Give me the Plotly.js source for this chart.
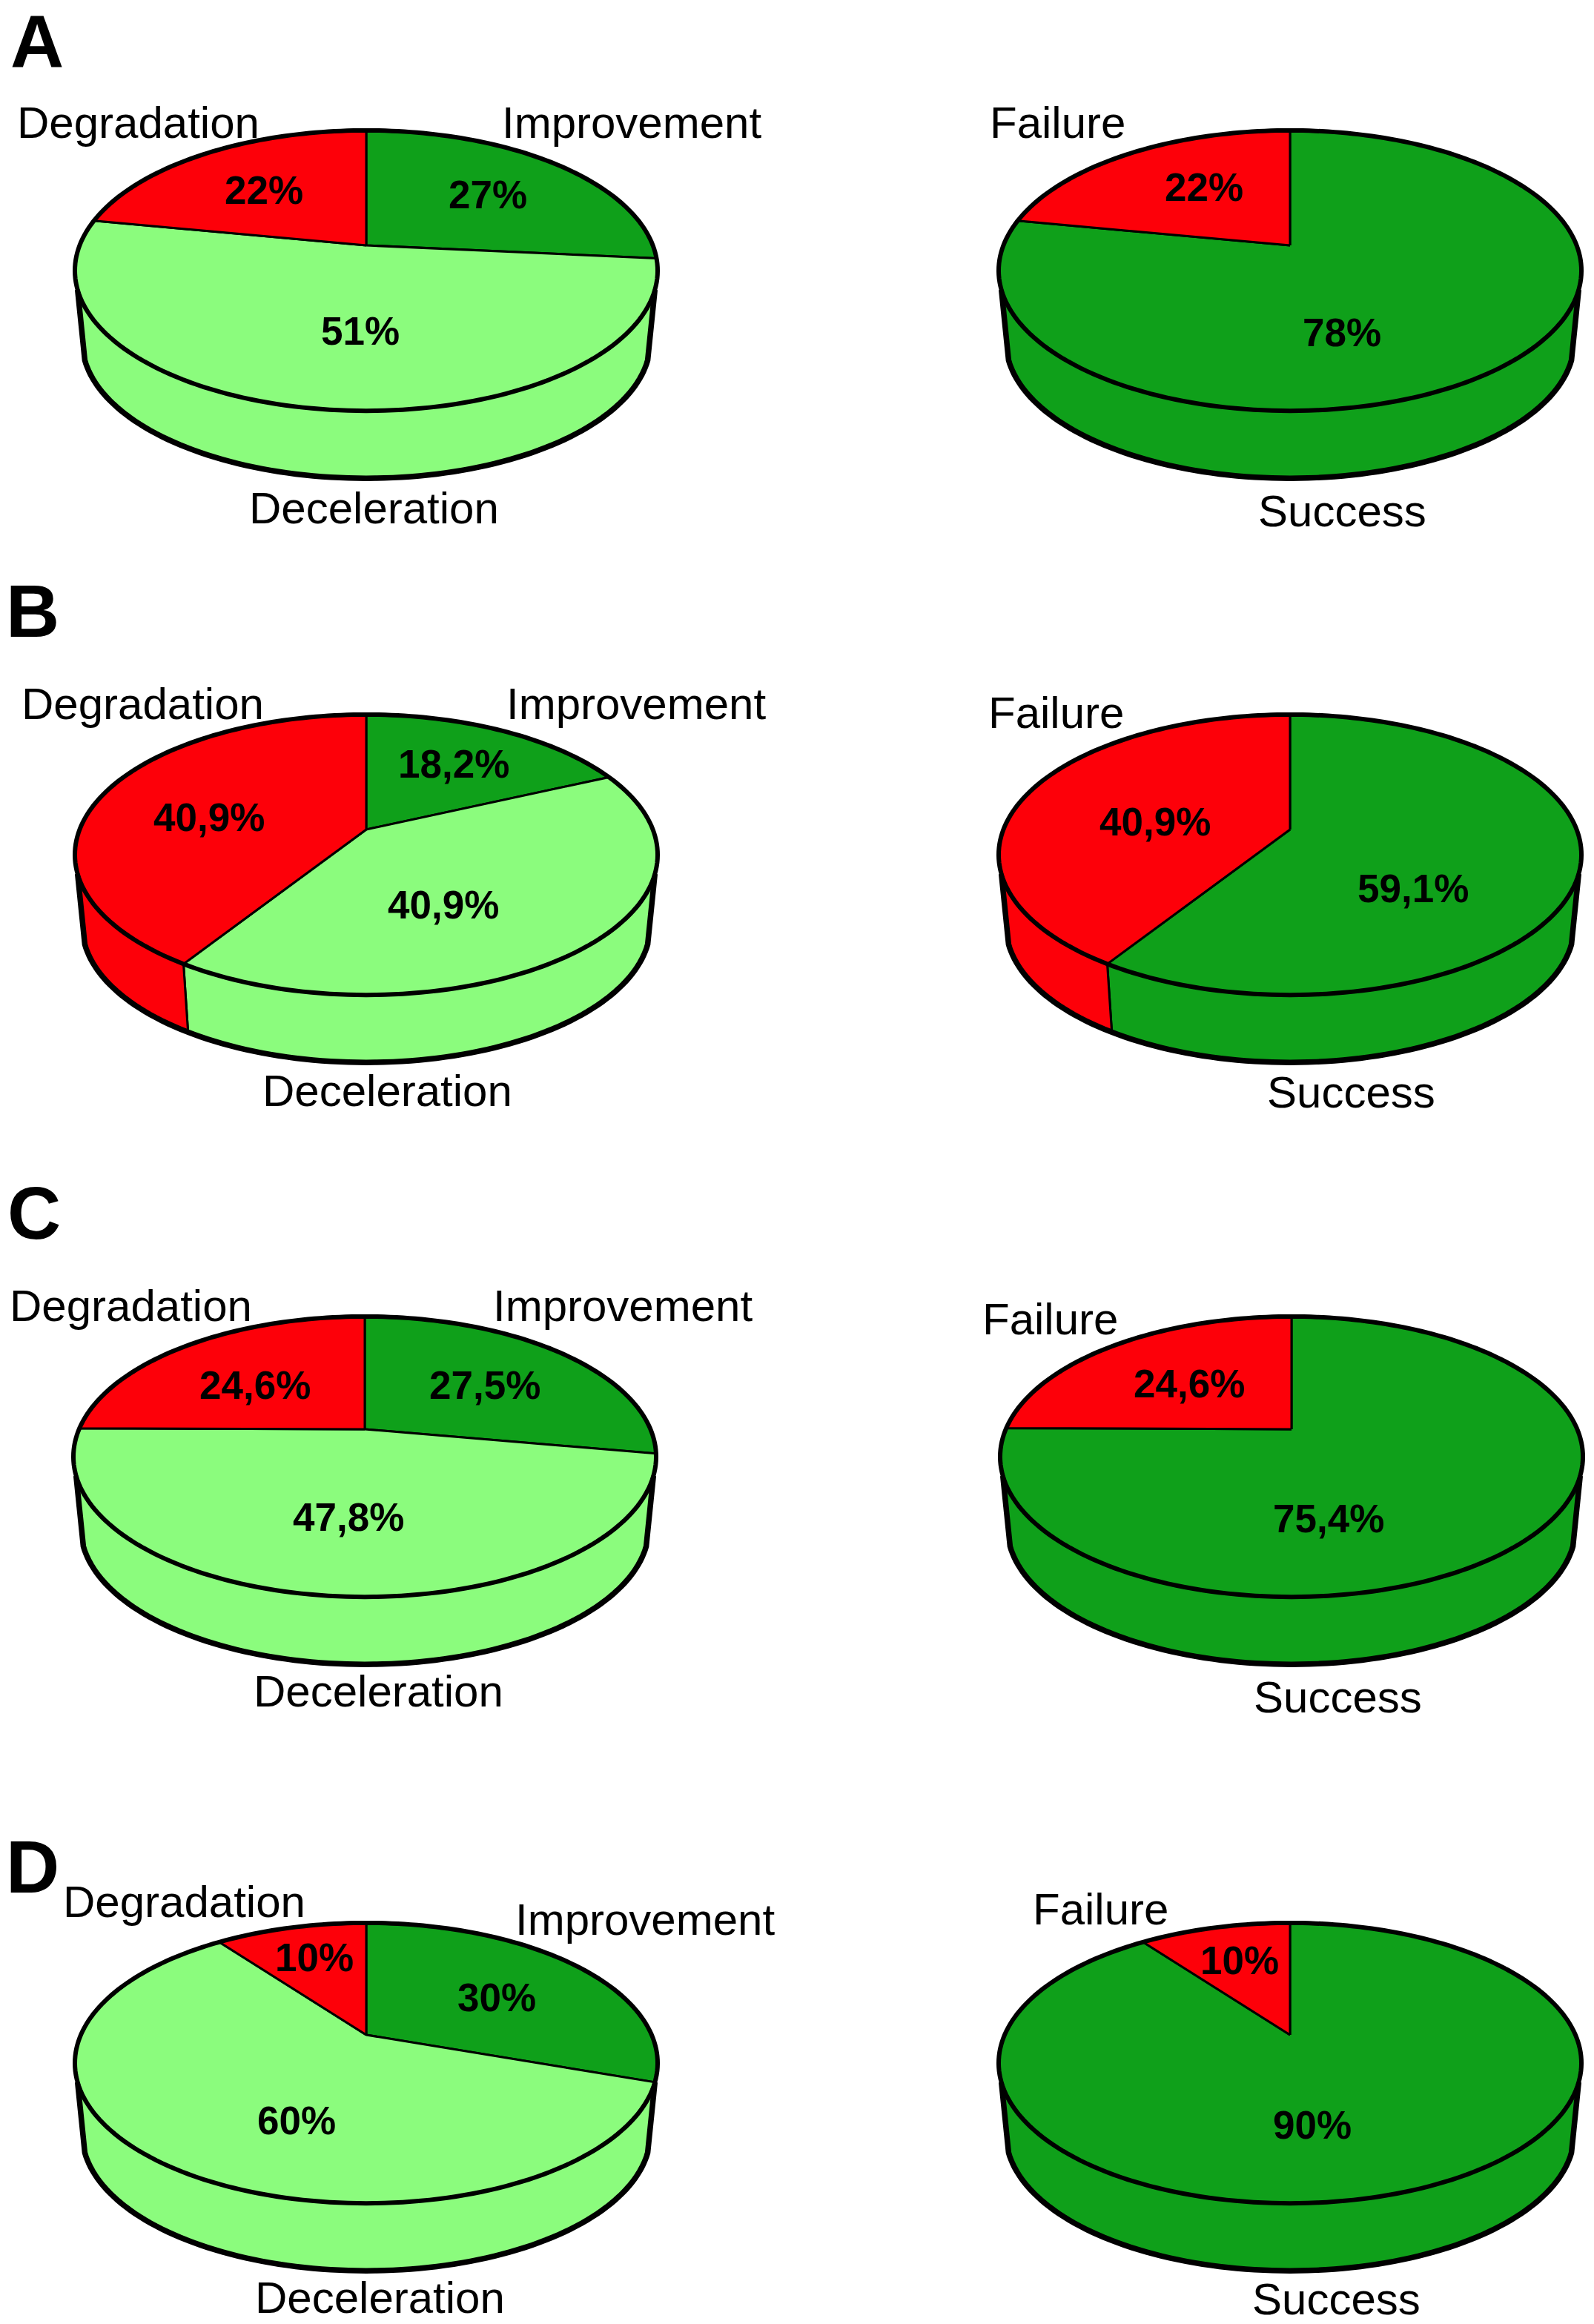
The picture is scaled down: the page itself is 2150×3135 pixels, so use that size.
<!DOCTYPE html>
<html><head><meta charset="utf-8">
<script src="https://cdn.plot.ly/plotly-3.0.1.min.js"></script>
<style>html,body{margin:0;padding:0;background:#fff}</style></head>
<body><div id="chart" style="width:2150px;height:3135px"></div>
<script>
// ---- values ----
const panels = ['A','B','C','D'];
const leftCategories = ['Improvement','Deceleration','Degradation'];
const rightCategories = ['Success','Failure'];
const improvement = [26.5,18.2,27.5,30];
const deceleration = [51.5,40.9,47.8,60];
const degradation = [22,40.9,24.6,10];
const success = [78,59.1,75.4,90];
const failure = [22,40.9,24.6,10];
const improvementText = ['27%','18,2%','27,5%','30%'];
const decelerationText = ['51%','40,9%','47,8%','60%'];
const degradationText = ['22%','40,9%','24,6%','10%'];
const successText = ['78%','59,1%','75,4%','90%'];
const failureText = ['22%','40,9%','24,6%','10%'];

// ---- colours ----
const RED='#FD0009', DARK='#0FA01A', LIGHT='#8BFC7D';
const leftColors=[DARK,LIGHT,RED], rightColors=[DARK,RED];

// ---- layout of the pies (pixels of the plot axes) ----
const pieCx=[[494,494,492,494],[1740,1740,1742,1740]];
const pieTop=[176,964,1776,2594];
const apexShift=[0,0,-3,-4];
const A3=386.6,B3=183,K=0.18,S=0.975,D3=96.6,APEX=155;

function rim(cx,ay,deg,low){
  const t=deg*Math.PI/180,u=Math.sin(t),v=-Math.cos(t),w=1-K*v;
  const s=low?S:1;
  return [cx+s*A3*u/w, ay+(low?D3:0)+s*B3*v/w];
}
function arc(cx,ay,a,b,low){
  const n=Math.max(2,Math.ceil(Math.abs(b-a)/1.5)),xs=[],ys=[];
  for(let i=0;i<=n;i++){const p=rim(cx,ay,a+(b-a)*i/n,low);xs.push(p[0]);ys.push(p[1]);}
  return [xs,ys];
}
const traces=[];
function shape(x,y,fill,lw){
  traces.push({type:'scatter',mode:'lines',x,y,fill:fill?'toself':'none',fillcolor:fill||undefined,
    line:{color:'#000',width:lw,simplify:false},hoverinfo:'skip',showlegend:false});
}
function drawPie(cx,top,shift,values,colors){
  const ay=top+APEX,tot=values.reduce((a,b)=>a+b,0);
  const VIS0=108,VIS1=252;
  let ang=0;const seg=values.map(v=>{const s=[ang,ang+v/tot*360];ang=s[1];return s;});
  // side walls
  seg.forEach((s,i)=>{
    const a=Math.max(s[0],VIS0),b=Math.min(s[1],VIS1);
    if(b<=a)return;
    const t=arc(cx,ay,a,b,false),l=arc(cx,ay,b,a,true);
    shape(t[0].concat(l[0],[t[0][0]]),t[1].concat(l[1],[t[1][0]]),colors[i],3);
  });
  // silhouette of the lower rim
  const lo=arc(cx,ay,VIS0,VIS1,true),p0=rim(cx,ay,VIS0,false),p1=rim(cx,ay,VIS1,false);
  shape([p0[0]].concat(lo[0],[p1[0]]),[p0[1]].concat(lo[1],[p1[1]]),null,7.5);
  // top faces
  seg.forEach((s,i)=>{
    const t=arc(cx,ay,s[0],s[1],false);
    shape([cx].concat(t[0],[cx]),[ay+shift].concat(t[1],[ay+shift]),colors[i],3);
  });
  const c=arc(cx,ay,0,360,false);
  shape(c[0],c[1],null,6);
}
panels.forEach((p,i)=>{
  drawPie(pieCx[0][i],pieTop[i],apexShift[i],[improvement[i],deceleration[i],degradation[i]],leftColors);
  drawPie(pieCx[1][i],pieTop[i],apexShift[i],[success[i],failure[i]],rightColors);
});

// ---- text positions (pixels) ----
const panelPos=[[50,56],[44,824],[46,1636],[44,2518]];
const degradationPos=[[186,165],[192,949],[176,1761],[248,2565]];
const improvementPos=[[852,165],[858,949],[840,1761],[870,2589]];
const decelerationPos=[[504,685],[522,1471],[510,2281],[512,3099]];
const failureCatPos=[[1426,165],[1424,961],[1416,1779],[1484,2575]];
const successCatPos=[[1810,689],[1822,1473],[1804,2289],[1802,3101]];
const improvementValPos=[[658,262],[612,1030],[654,1868],[670,2694]];
const decelerationValPos=[[486,446],[598,1220],[470,2046],[400,2860]];
const degradationValPos=[[356,256],[282,1102],[344,1868],[424,2640]];
const successValPos=[[1810,448],[1906,1198],[1792,2048],[1770,2866]];
const failureValPos=[[1624,252],[1558,1108],[1604,1866],[1672,2644]];

const ann=[];
function t(text,pos,size,bold){
  ann.push({text:bold?'<b>'+text+'</b>':text,x:pos[0],y:pos[1],xref:'x',yref:'y',showarrow:false,
    xanchor:'center',yanchor:'middle',font:{family:'Liberation Sans, Arial, sans-serif',size,color:'#000'}});
}
panels.forEach((p,i)=>{
  t(p,panelPos[i],100,true);
  t(leftCategories[2],degradationPos[i],60);
  t(leftCategories[0],improvementPos[i],60);
  t(leftCategories[1],decelerationPos[i],60);
  t(rightCategories[1],failureCatPos[i],60);
  t(rightCategories[0],successCatPos[i],60);
  t(improvementText[i],improvementValPos[i],53,true);
  t(decelerationText[i],decelerationValPos[i],53,true);
  t(degradationText[i],degradationValPos[i],53,true);
  t(successText[i],successValPos[i],53,true);
  t(failureText[i],failureValPos[i],53,true);
});

Plotly.newPlot('chart',traces,{
  width:2150,height:3135,margin:{l:0,r:0,t:0,b:0},paper_bgcolor:'#fff',plot_bgcolor:'#fff',showlegend:false,
  xaxis:{range:[0,2150],visible:false,fixedrange:true},
  yaxis:{range:[3135,0],visible:false,fixedrange:true},
  annotations:ann
},{displayModeBar:false,staticPlot:true});
</script></body></html>
